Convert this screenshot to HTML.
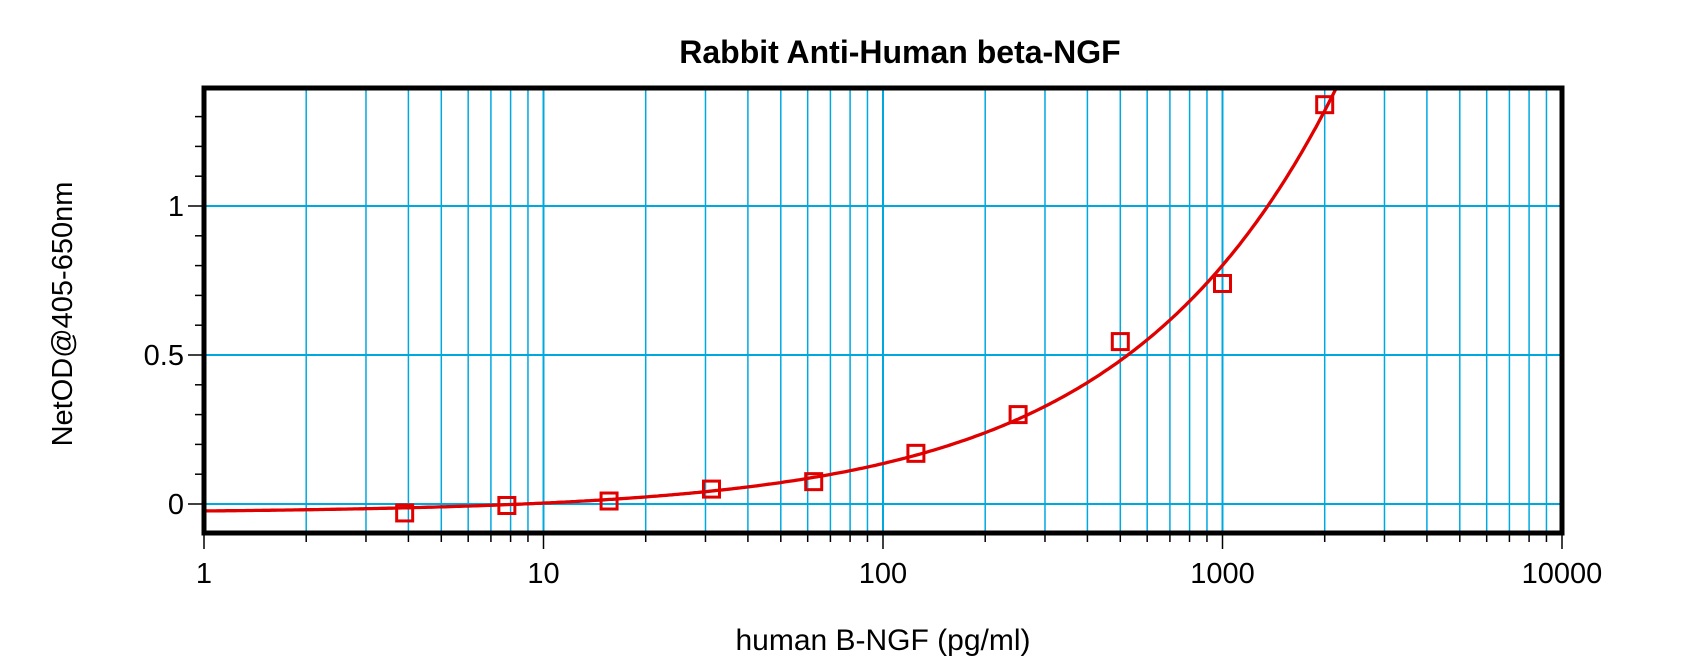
<!DOCTYPE html><html><head><meta charset="utf-8"><style>body{margin:0;background:#fff}svg{display:block}text{font-family:"Liberation Sans",Arial,sans-serif}</style></head><body>
<svg id="s" width="1700" height="661" xmlns="http://www.w3.org/2000/svg"></svg>
<script>
const s=document.getElementById('s');let h='';
const X0=204,X1=1562,Y0=88,Y1=533;
const dec=(X1-X0)/4;
const px=v=>X0+Math.log10(v)*dec;
const py=v=>504-v*298;
for(let d=0;d<4;d++)for(let m=1;m<=9;m++){const v=m*Math.pow(10,d);if(v===1)continue;const x=px(v);
h+=`<line x1="${x}" y1="${Y0}" x2="${x}" y2="${Y1}" stroke="#00a8e0" stroke-width="${m===1?2:1.5}"/>`;
h+=`<line x1="${x}" y1="${Y1}" x2="${x}" y2="${Y1+(m===1?16:9)}" stroke="#000" stroke-width="1.5"/>`;}
h+=`<line x1="${X1}" y1="${Y1}" x2="${X1}" y2="${Y1+16}" stroke="#000" stroke-width="1.5"/>`;
h+=`<line x1="${X0}" y1="${Y1}" x2="${X0}" y2="${Y1+16}" stroke="#000" stroke-width="1.5"/>`;
[0,0.5,1].forEach(v=>h+=`<line x1="${X0}" y1="${py(v)}" x2="${X1}" y2="${py(v)}" stroke="#00a8e0" stroke-width="2"/>`);
for(let i=0;i<=13;i++){const v=i/10,y=py(v);const maj=i%5===0;h+=`<line x1="${X0-(maj?16:9)}" y1="${y}" x2="${X0}" y2="${y}" stroke="#000" stroke-width="1.5"/>`;}
let p='';for(let i=0;i<=400;i++){const lx=i/400*Math.log10(2200);const x=Math.pow(10,lx);let y=-0.03+0.0066*Math.pow(x,0.7);if(y>1.396)y=1.396;p+=(i?'L':'M')+px(x).toFixed(1)+' '+py(y).toFixed(1);}
h+=`<path d="${p}" fill="none" stroke="#e00000" stroke-width="3.3"/>`;
[[3.9,-0.03],[7.8,-0.005],[15.6,0.01],[31.25,0.05],[62.5,0.075],[125,0.17],[250,0.3],[500,0.545],[1000,0.74],[2000,1.34]].forEach(([a,b])=>{h+=`<rect x="${px(a)-8}" y="${py(b)-8}" width="16" height="16" fill="none" stroke="#e00000" stroke-width="3"/>`;});
h+=`<rect x="${X0}" y="${Y0}" width="${X1-X0}" height="${Y1-Y0}" fill="none" stroke="#000" stroke-width="5"/>`;
[[1,'1'],[10,'10'],[100,'100'],[1000,'1000'],[10000,'10000']].forEach(([v,t])=>h+=`<text x="${px(v)}" y="583" font-size="29" text-anchor="middle">${t}</text>`);
[[0,'0'],[0.5,'0.5'],[1,'1']].forEach(([v,t])=>h+=`<text x="184" y="${py(v)+10}" font-size="29" text-anchor="end">${t}</text>`);
h+=`<text x="900" y="63" font-size="32" font-weight="bold" text-anchor="middle">Rabbit Anti-Human beta-NGF</text>`;
h+=`<text x="883" y="650" font-size="30" text-anchor="middle">human B-NGF (pg/ml)</text>`;
h+=`<text transform="translate(72,314) rotate(-90)" font-size="29" text-anchor="middle">NetOD@405-650nm</text>`;
s.innerHTML=h;
</script></body></html>
